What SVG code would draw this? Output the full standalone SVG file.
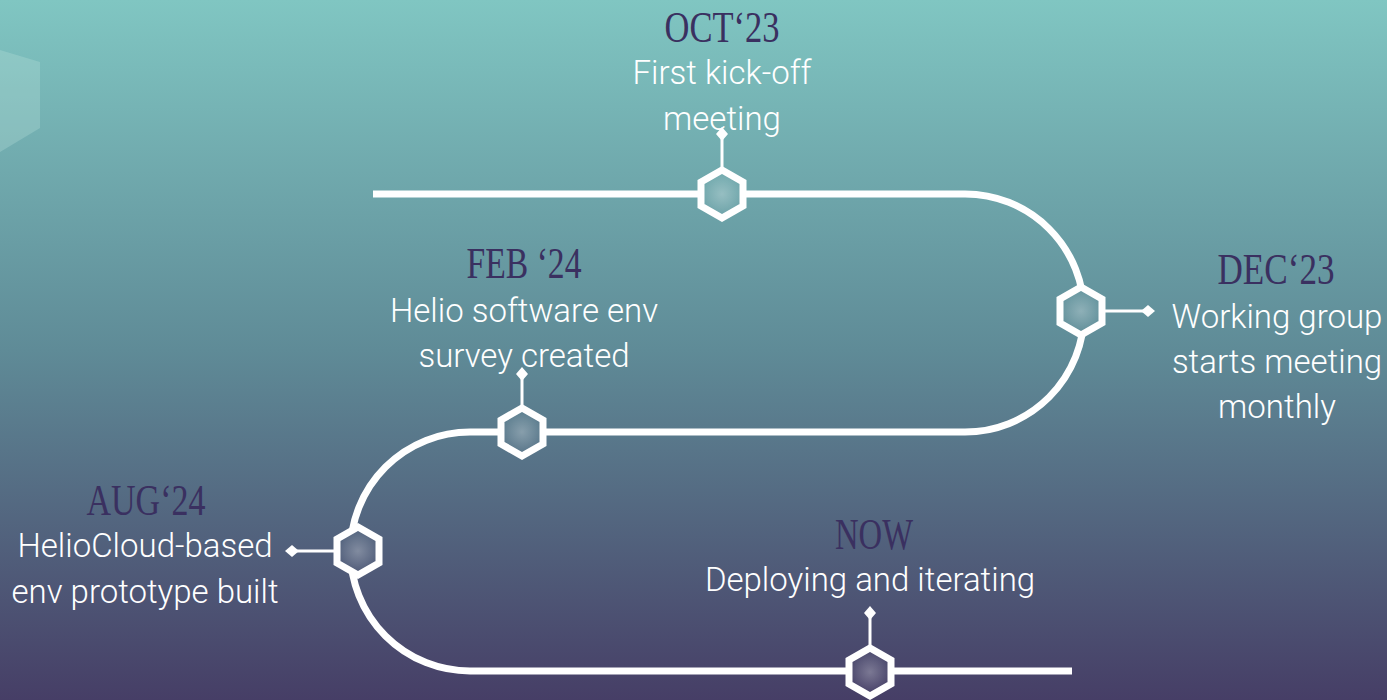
<svg xmlns="http://www.w3.org/2000/svg" width="1387" height="700" viewBox="0 0 1387 700">
  <defs>
    <linearGradient id="bg" x1="0" y1="0" x2="0" y2="700" gradientUnits="userSpaceOnUse">
      <stop offset="0" stop-color="#80c6c2"/>
      <stop offset="0.5" stop-color="#5f8b97"/>
      <stop offset="1" stop-color="#463e66"/>
    </linearGradient>
    <radialGradient id="hexglow" cx="0.5" cy="0.5" r="0.5">
      <stop offset="0" stop-color="#ffffff" stop-opacity="0.28"/>
      <stop offset="1" stop-color="#ffffff" stop-opacity="0"/>
    </radialGradient>
    <style>
      .path { fill: none; stroke: #ffffff; stroke-width: 7; }
      .stem { fill: none; stroke: #ffffff; stroke-width: 3; }
      .dia { fill: #ffffff; }
      .hex { fill: url(#bg); stroke: #ffffff; stroke-width: 7; stroke-linejoin: miter; }
      .glow { fill: url(#hexglow); }
      .date { font-family: "Liberation Serif", serif; font-size: 44px; fill: #3a3060; text-anchor: middle; }
      .body { font-family: "Roboto Light", Roboto, "Liberation Sans", sans-serif; font-weight: 300; font-size: 33px; fill: #ffffff; text-anchor: middle; }
    </style>
  </defs>
  <rect x="0" y="0" width="1387" height="700" fill="url(#bg)"/>
  <polygon points="0,50 40,62 40,128 0,152" fill="#b8e0dc" opacity="0.3"/>

  <g id="connectors">
    <path class="path" d="M373,194 H965 A119,119 0 0 1 965,432 H470 A119.5,119.5 0 0 0 470,671 H1072"/>
    <path class="stem" d="M722,167 V138"/>
    <path class="stem" d="M1105,311 H1144"/>
    <path class="stem" d="M522,405 V378"/>
    <path class="stem" d="M334,551 H297"/>
    <path class="stem" d="M870,645 V616"/>
  </g>

  <g id="oct">
    <polygon class="hex" points="722,170 743,182 743,206 722,218 701,206 701,182"/>
    <circle class="glow" cx="722" cy="194" r="22"/>
    <polygon class="dia" points="722,127 728,134 722,141 716,134"/>
    <text class="date" x="722" y="42" textLength="115" lengthAdjust="spacingAndGlyphs">OCT‘23</text>
    <text class="body" x="722" y="84">First kick-off</text>
    <text class="body" x="722" y="130">meeting</text>
  </g>
  <g id="dec">
    <polygon class="hex" points="1081,287 1102,299 1102,323 1081,335 1060,323 1060,299"/>
    <circle class="glow" cx="1081" cy="311" r="22"/>
    <polygon class="dia" points="1148,305 1155,311 1148,317 1141,311"/>
    <text class="date" x="1276" y="284" textLength="117" lengthAdjust="spacingAndGlyphs">DEC‘23</text>
    <text class="body" x="1277" y="328">Working group</text>
    <text class="body" x="1277" y="373">starts meeting</text>
    <text class="body" x="1277" y="418">monthly</text>
  </g>
  <g id="feb">
    <polygon class="hex" points="522,408 543,420 543,444 522,456 501,444 501,420"/>
    <circle class="glow" cx="522" cy="432" r="22"/>
    <polygon class="dia" points="522,367 528,374 522,381 516,374"/>
    <text class="date" x="524" y="278" textLength="115" lengthAdjust="spacingAndGlyphs">FEB ‘24</text>
    <text class="body" x="524" y="322">Helio software env</text>
    <text class="body" x="524" y="367">survey created</text>
  </g>
  <g id="aug">
    <polygon class="hex" points="358,527 379,539 379,563 358,575 337,563 337,539"/>
    <circle class="glow" cx="358" cy="551" r="22"/>
    <polygon class="dia" points="292,545 299,551 292,557 285,551"/>
    <text class="date" x="146" y="515" textLength="119" lengthAdjust="spacingAndGlyphs">AUG‘24</text>
    <text class="body" x="145" y="557">HelioCloud-based</text>
    <text class="body" x="145" y="603">env prototype built</text>
  </g>
  <g id="now">
    <polygon class="hex" points="870,648 891,660 891,684 870,696 849,684 849,660"/>
    <circle class="glow" cx="870" cy="672" r="22"/>
    <polygon class="dia" points="870,606 876,613 870,620 864,613"/>
    <text class="date" x="874" y="549" textLength="78" lengthAdjust="spacingAndGlyphs">NOW</text>
    <text class="body" x="870" y="591">Deploying and iterating</text>
  </g>
</svg>
